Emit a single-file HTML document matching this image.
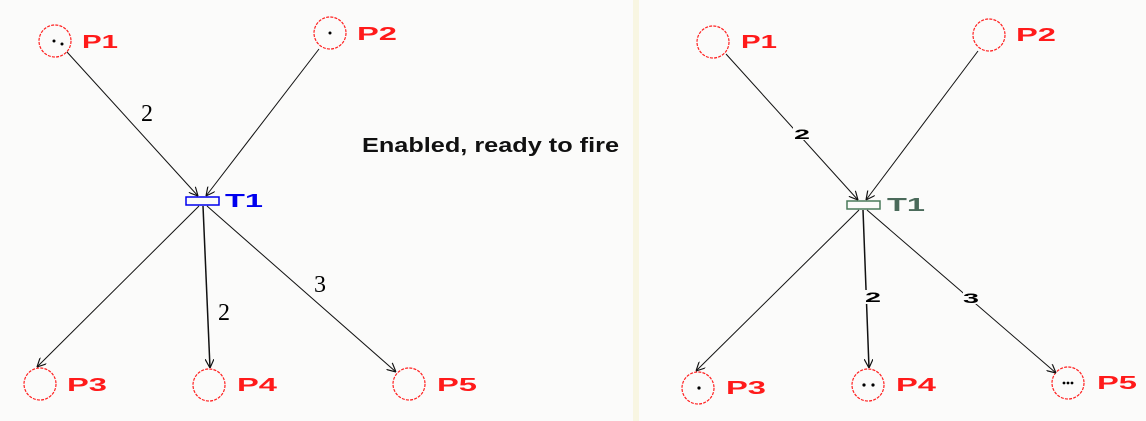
<!DOCTYPE html>
<html><head><meta charset="utf-8"><style>
html,body{margin:0;padding:0;background:#fbfbfa;}
svg{display:block;}
.pl{fill:none;stroke:#ff2020;stroke-width:1.2;stroke-dasharray:3 1.2;}
.lb{font-family:"Liberation Sans",sans-serif;font-weight:bold;font-size:18px;fill:#ff1a1a;}
.ar{stroke:#111;stroke-width:1;fill:none;}
.w{font-family:"Liberation Serif",serif;font-size:24px;fill:#000;}
.w2{font-family:"Liberation Sans",sans-serif;font-weight:bold;font-size:14px;fill:#000;}
</style></head><body>
<svg width="1146" height="421" viewBox="0 0 1146 421" xmlns="http://www.w3.org/2000/svg">
<defs>
<marker id="a" viewBox="0 0 10 10" refX="10" refY="5" markerWidth="9" markerHeight="9" orient="auto" markerUnits="userSpaceOnUse">
<path d="M0,0 L10,5 L0,10" fill="none" stroke="#111" stroke-width="1.3"/></marker>
</defs>
<rect x="633" y="0" width="6" height="421" fill="#f8f6e2"/>
<!-- LEFT -->
<circle class="pl" cx="55" cy="41" r="16"/><text class="lb" x="82" y="48" textLength="36" lengthAdjust="spacingAndGlyphs">P1</text>
<circle cx="54" cy="41" r="1.5"/><circle cx="62" cy="44" r="1.5"/>
<circle class="pl" cx="330" cy="33" r="16"/><text class="lb" x="357" y="40" textLength="40" lengthAdjust="spacingAndGlyphs">P2</text>
<circle cx="330" cy="33" r="1.5"/>
<rect x="186" y="197" width="33" height="8" fill="none" stroke="#0000ee" stroke-width="1.5"/>
<text x="225" y="207" textLength="38" lengthAdjust="spacingAndGlyphs" style="font-family:'Liberation Sans',sans-serif;font-weight:bold;font-size:18px;fill:#0000ee">T1</text>
<line class="ar" x1="67" y1="52" x2="198" y2="196" marker-end="url(#a)"/>
<line class="ar" x1="319" y1="49" x2="206" y2="196" marker-end="url(#a)"/>
<text class="w" x="141" y="121">2</text>
<circle class="pl" cx="40" cy="384" r="16"/><text class="lb" x="67" y="391" textLength="40" lengthAdjust="spacingAndGlyphs">P3</text>
<circle class="pl" cx="209" cy="385" r="16"/><text class="lb" x="237" y="391" textLength="40" lengthAdjust="spacingAndGlyphs">P4</text>
<circle class="pl" cx="409" cy="384" r="16"/><text class="lb" x="437" y="391" textLength="40" lengthAdjust="spacingAndGlyphs">P5</text>
<line class="ar" x1="199" y1="206" x2="37" y2="367" marker-end="url(#a)"/>
<line class="ar" x1="203" y1="206" x2="210" y2="368" marker-end="url(#a)" style="stroke-width:1.5"/>
<line class="ar" x1="207" y1="206" x2="396" y2="372" marker-end="url(#a)"/>
<text class="w" x="218" y="320">2</text>
<text class="w" x="314" y="292">3</text>
<text x="362" y="152" textLength="257" lengthAdjust="spacingAndGlyphs" style="font-family:'Liberation Sans',sans-serif;font-size:20px;font-weight:bold;fill:#111;">Enabled, ready to fire</text>
<!-- RIGHT -->
<circle class="pl" cx="713" cy="42" r="16"/><text class="lb" x="741" y="48" textLength="36" lengthAdjust="spacingAndGlyphs">P1</text>
<circle class="pl" cx="989" cy="35" r="16"/><text class="lb" x="1016" y="41" textLength="40" lengthAdjust="spacingAndGlyphs">P2</text>
<rect x="847" y="201" width="33" height="8" fill="none" stroke="#4a7a5a" stroke-width="1.5"/>
<text x="887" y="211" textLength="38" lengthAdjust="spacingAndGlyphs" style="font-family:'Liberation Sans',sans-serif;font-size:18px;fill:#4a6a5a;font-weight:bold">T1</text>
<line class="ar" x1="726" y1="54" x2="858" y2="200" marker-end="url(#a)"/>
<line class="ar" x1="978" y1="51" x2="866" y2="200" marker-end="url(#a)"/>
<rect x="793" y="127" width="16" height="13" fill="#fbfbfa"/>
<text class="w2" x="794" y="139" textLength="16" lengthAdjust="spacingAndGlyphs">2</text>
<circle class="pl" cx="698" cy="388" r="16"/><text class="lb" x="726" y="394" textLength="40" lengthAdjust="spacingAndGlyphs">P3</text>
<circle cx="699" cy="388" r="1.6"/>
<circle class="pl" cx="868" cy="385" r="16"/><text class="lb" x="896" y="391" textLength="40" lengthAdjust="spacingAndGlyphs">P4</text>
<circle cx="864" cy="385" r="1.6"/><circle cx="873" cy="385" r="1.6"/>
<circle class="pl" cx="1068" cy="383" r="16"/><text class="lb" x="1097" y="389" textLength="40" lengthAdjust="spacingAndGlyphs">P5</text>
<circle cx="1064" cy="383" r="1.4"/><circle cx="1068" cy="383" r="1.4"/><circle cx="1072" cy="383" r="1.4"/>
<line class="ar" x1="859" y1="210" x2="696" y2="371" marker-end="url(#a)"/>
<line class="ar" x1="863" y1="210" x2="869" y2="368" marker-end="url(#a)" style="stroke-width:1.5"/>
<line class="ar" x1="867" y1="210" x2="1056" y2="373" marker-end="url(#a)"/>
<rect x="864" y="290" width="16" height="14" fill="#fbfbfa"/>
<text class="w2" x="865" y="302" textLength="16" lengthAdjust="spacingAndGlyphs">2</text>
<rect x="963" y="290" width="16" height="14" fill="#fbfbfa"/>
<text class="w2" x="963" y="303" textLength="16" lengthAdjust="spacingAndGlyphs">3</text>
</svg>
</body></html>
